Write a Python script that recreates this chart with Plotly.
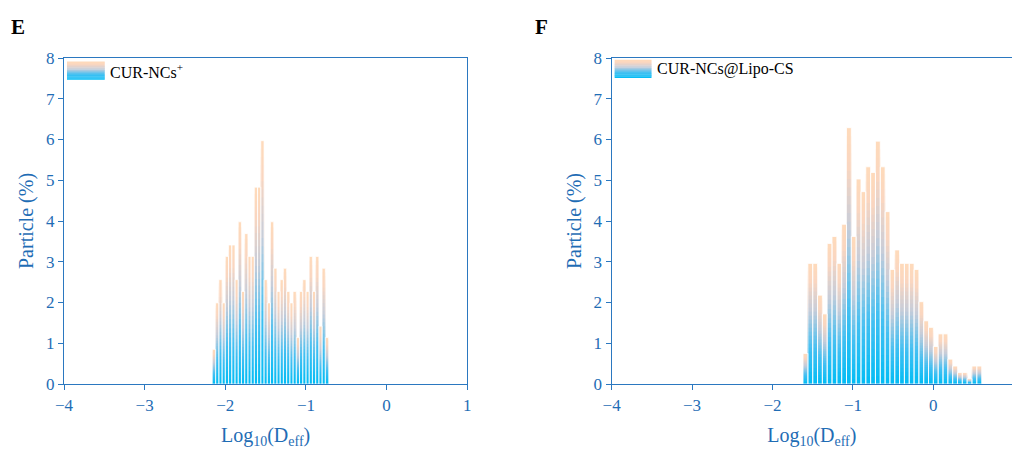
import plotly.graph_objects as go
from plotly.subplots import make_subplots

# ---------------- data ----------------
e_bins = [-2.14, -2.10, -2.06, -2.02, -1.98, -1.94, -1.90, -1.86, -1.82, -1.78,
          -1.74, -1.70, -1.66, -1.62, -1.58, -1.54, -1.50, -1.46, -1.42, -1.38,
          -1.34, -1.30, -1.26, -1.22, -1.18, -1.14, -1.10, -1.06, -1.02, -0.98,
          -0.94, -0.90, -0.86, -0.82, -0.78, -0.74]
e_vals = [0.85, 1.99, 2.56, 1.99, 3.13, 3.41, 3.41, 2.56, 3.98, 2.27,
          3.69, 3.13, 3.13, 4.83, 4.83, 5.97, 2.56, 1.99, 3.98, 2.84,
          2.27, 2.56, 2.84, 2.27, 1.99, 2.27, 1.14, 2.27, 2.56, 2.27,
          3.13, 2.27, 3.13, 1.42, 2.84, 1.14]

f_bins = [-1.59, -1.53, -1.47, -1.41, -1.35, -1.29, -1.23, -1.17, -1.11, -1.05,
          -0.99, -0.93, -0.87, -0.81, -0.75, -0.69, -0.63, -0.57, -0.51, -0.45,
          -0.39, -0.33, -0.27, -0.21, -0.15, -0.09, -0.03, 0.03, 0.09, 0.15,
          0.21, 0.27, 0.33, 0.39, 0.45, 0.51, 0.57]
f_vals = [0.75, 2.96, 2.96, 2.18, 1.72, 3.45, 3.62, 2.96, 3.92, 6.29,
          3.62, 5.03, 4.72, 5.33, 5.19, 5.96, 5.33, 4.23, 2.81, 3.29,
          2.96, 2.96, 2.96, 2.81, 2.02, 1.55, 1.39, 0.92, 1.23, 1.23,
          0.61, 0.44, 0.28, 0.28, 0.13, 0.44, 0.44]

x_ticks = [-4, -3, -2, -1, 0, 1]
y_ticks = [0, 1, 2, 3, 4, 5, 6, 7, 8]
e_label = "CUR-NCs<sup>+</sup>"
f_label = "CUR-NCs@Lipo-CS"

# ---------------- style ----------------
STOPS = [(0.0, (0, 188, 245)), (0.3, (70, 192, 242)), (0.6, (196, 204, 218)),
         (0.85, (250, 214, 192)), (1.0, (255, 218, 186))]
AXIS = "#2b78c0"
TEXT = "#1f6db5"
FONT = "Liberation Serif, Times New Roman, serif"
NSEG = 30


def mix(t):
    for (t0, c0), (t1, c1) in zip(STOPS[:-1], STOPS[1:]):
        if t <= t1:
            u = (t - t0) / (t1 - t0)
            r = [round(c0[i] + (c1[i] - c0[i]) * u) for i in range(3)]
            return f"rgb({r[0]},{r[1]},{r[2]})"
    c = STOPS[-1][1]
    return f"rgb({c[0]},{c[1]},{c[2]})"


fig = make_subplots(rows=1, cols=2, horizontal_spacing=0.1523)
fig.update_xaxes(domain=[0, 0.4254], row=1, col=1)
fig.update_xaxes(domain=[0.5777, 1.0], row=1, col=2)

# gradient bars: overlay of progressively shorter bars (tallest = peach, shortest = blue)
for col, bins, vals, w, lw in [(1, e_bins, e_vals, 0.04, 0.7), (2, f_bins, f_vals, 0.06, 0.8)]:
    for j in range(NSEG, 0, -1):
        frac = j / NSEG
        fig.add_trace(go.Bar(
            x=bins, y=[v * frac for v in vals], width=w,
            marker=dict(color=mix((j - 0.5) / NSEG), line=dict(width=0)),
            showlegend=False, hoverinfo="skip"),
            row=1, col=col)
    # thin white outline around each full bar to separate neighbours
    fig.add_trace(go.Bar(
        x=bins, y=vals, width=w,
        marker=dict(color="rgba(0,0,0,0)", line=dict(width=lw, color="white")),
        showlegend=False, hoverinfo="skip"),
        row=1, col=col)

fig.update_layout(
    barmode="overlay",
    width=1016, height=450,
    margin=dict(l=64, r=0, t=58, b=66),
    paper_bgcolor="white", plot_bgcolor="white",
    font=dict(family=FONT, size=17, color=TEXT),
)

axis_common = dict(
    showline=True, linecolor=AXIS, linewidth=1.3,
    ticks="outside", tickcolor=AXIS, ticklen=5, tickwidth=1.3,
    showgrid=False, zeroline=False,
    tickfont=dict(family=FONT, size=17, color=TEXT),
)
fig.update_xaxes(**axis_common, tickvals=x_ticks, mirror=True)
fig.update_xaxes(range=[-4, 1], row=1, col=1)
fig.update_xaxes(range=[-4, 0.978], row=1, col=2)
fig.update_xaxes(title=dict(text="Log<sub>10</sub>(D<sub>eff</sub>)",
                            font=dict(family=FONT, size=20, color=TEXT), standoff=14))
fig.update_yaxes(**axis_common, tickvals=y_ticks, range=[0, 8],
                 title=dict(text="Particle (%)", font=dict(family=FONT, size=20, color=TEXT),
                            standoff=6))
fig.update_yaxes(mirror=True, row=1, col=1)
fig.update_yaxes(mirror=False, row=1, col=2)

# legend swatches (gradient) + labels
shapes = []
annotations = []
for xref, yref, x0, x1, y0, y1, label in [
    ("x domain", "y domain", 0.0074, 0.101, 0.933, 0.988, e_label),
    ("x2 domain", "y2 domain", 0.0075, 0.0995, 0.939, 0.994, f_label),
]:
    n = 16
    for k in range(n):
        ya = y0 + (y1 - y0) * k / n
        yb = y0 + (y1 - y0) * (k + 1) / n
        shapes.append(dict(type="rect", xref=xref, yref=yref, x0=x0, x1=x1,
                           y0=ya, y1=yb + 0.001, line=dict(width=0),
                           fillcolor=mix((k + 0.5) / n), layer="above"))
    annotations.append(dict(xref=xref, yref=yref, x=x1 + 0.008, y=(y0 + y1) / 2,
                            text=label, showarrow=False, xanchor="left", yanchor="middle",
                            font=dict(family=FONT, size=16, color="black")))

annotations.append(dict(xref="paper", yref="paper", x=-0.048, y=1.095, text="<b>E</b>",
                        showarrow=False, xanchor="center", yanchor="middle",
                        font=dict(family=FONT, size=21, color="black")))
annotations.append(dict(xref="paper", yref="paper", x=0.504, y=1.095, text="<b>F</b>",
                        showarrow=False, xanchor="center", yanchor="middle",
                        font=dict(family=FONT, size=21, color="black")))
fig.update_layout(shapes=shapes, annotations=annotations)

fig.write_html("out.html")
